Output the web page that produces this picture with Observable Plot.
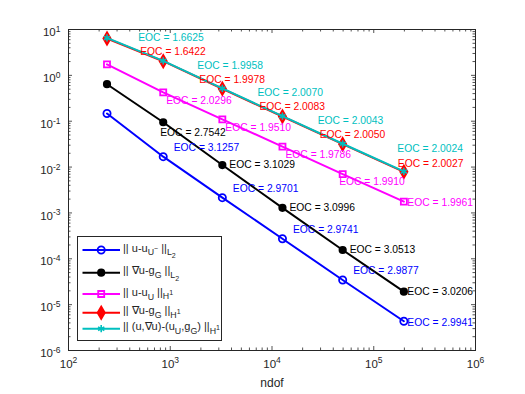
<!DOCTYPE html>
<html>
<head>
<meta charset="utf-8">
<script src="https://cdn.jsdelivr.net/npm/d3@7"></script>
<script src="https://cdn.jsdelivr.net/npm/@observablehq/plot@0.6"></script>
<style>
  html, body { margin: 0; padding: 0; background: white; }
  #wrap { position: relative; width: 525px; height: 394px; font-family: "Liberation Sans", Arial, Helvetica, sans-serif; }
  #legend { position: absolute; left: 77px; top: 236px; width: 145px; height: 105px; box-sizing: border-box;
            border: 1px solid #262626; background: white; }
  #legend svg { position: absolute; left: 0; top: 0; }
  .li { position: absolute; left: 45px; font-size: 11px; line-height: 11px; color: #262626; white-space: nowrap; }
  .li sub { font-size: 80%; vertical-align: -0.4em; line-height: 0; }
  .li sup { font-size: 80%; vertical-align: 0.5em; line-height: 0; }
</style>
</head>
<body>
<div id="wrap"></div>
<script>
// ---------------- data ----------------
const ndof = [239, 853, 3250, 12670, 49500, 197700];

const errL2   = [0.147, 0.01684, 0.00215, 0.000274, 3.45e-5, 4.35e-6];
const gradL2  = [0.641, 0.0950, 0.01106, 0.00129, 1.556e-4, 1.917e-5];
const errH1   = [1.74, 0.426, 0.110, 0.0280, 0.00703, 0.00176];
const gradH1  = [6.35, 2.035, 0.510, 0.1268, 0.0316, 0.00789];
const totalH1 = [6.55, 2.07, 0.520, 0.129, 0.0322, 0.00805];

const eocErrL2   = ["3.1257", "2.9701", "2.9741", "2.9877", "2.9941"];
const eocGradL2  = ["2.7542", "3.1029", "3.0996", "3.0513", "3.0206"];
const eocErrH1   = ["2.0296", "1.9510", "1.9786", "1.9910", "1.9961"];
const eocGradH1  = ["1.6422", "1.9978", "2.0083", "2.0050", "2.0027"];
const eocTotalH1 = ["1.6625", "1.9958", "2.0070", "2.0043", "2.0024"];

const xTickExponents = [2, 3, 4, 5, 6];
const yTickExponents = [-6, -5, -4, -3, -2, -1, 0, 1];

// ---------------- series definitions ----------------
const series = [
  {name: "errL2", values: errL2, eoc: eocErrL2, color: "#0000ff", symbol: "circle", fill: "none", r: 3.6,
   labels: [{idx: [0, 1, 2, 3], dx: 10.5, dy: -9}, {idx: [4], dx: 3.5, dy: 1}]},
  {name: "gradL2", values: gradL2, eoc: eocGradL2, color: "#000000", symbol: "circle", fill: "#000000", r: 3.2,
   labels: [{idx: [0], dx: -3, dy: 10}, {idx: [1, 2, 3], dx: 7, dy: 0}, {idx: [4], dx: 3.5, dy: 0.5}]},
  {name: "errH1", values: errH1, eoc: eocErrH1, color: "#ff00ff", symbol: "square", fill: "none", r: 3.4,
   labels: [{idx: [0, 1, 2], dx: 3, dy: 8.5}, {idx: [3], dx: -3.5, dy: 7.5}, {idx: [4], dx: 3.5, dy: 1}]},
  {name: "gradH1", values: gradH1, eoc: eocGradH1, color: "#ff0000", symbol: "diamond", fill: "#ff0000", r: 3.8,
   labels: [{idx: [0, 1, 2, 3], dx: -23, dy: -9.5}, {idx: [4], dx: -6, dy: -8.5}]},
  {name: "totalH1", values: totalH1, eoc: eocTotalH1, color: "#00bfbf", symbol: "asterisk", fill: "none", r: 3.4,
   labels: [{idx: [0, 1, 2, 3], dx: -25, dy: -23}, {idx: [4], dx: -6.5, dy: -22.5}]}
];

const W = 525, H = 394;
const mL = 68, mT = 29, mR = 50, mB = 44;
const innerW = W - mL - mR, innerH = H - mT - mB;
const axisColor = "#262626";

const xMajor = xTickExponents.map(e => Math.pow(10, e));
const yMajor = yTickExponents.map(e => Math.pow(10, e));
const xMinor = xTickExponents.slice(0, -1).flatMap(e => d3.range(2, 10).map(m => m * Math.pow(10, e)));
const yMinor = yTickExponents.slice(0, -1).flatMap(e => d3.range(2, 10).map(m => m * Math.pow(10, e)));

const marks = [];
// frame + inward ticks on all four sides
const majLen = 4, minLen = 2.5;
marks.push(Plot.ruleX(xMajor, {x: d => d, insetTop: innerH - majLen, stroke: axisColor, strokeWidth: 0.8}));
marks.push(Plot.ruleX(xMinor, {x: d => d, insetTop: innerH - minLen, stroke: axisColor, strokeWidth: 0.8}));
marks.push(Plot.ruleX(xMajor, {x: d => d, insetBottom: innerH - majLen, stroke: axisColor, strokeWidth: 0.8}));
marks.push(Plot.ruleX(xMinor, {x: d => d, insetBottom: innerH - minLen, stroke: axisColor, strokeWidth: 0.8}));
marks.push(Plot.ruleY(yMajor, {y: d => d, insetRight: innerW - majLen, stroke: axisColor, strokeWidth: 0.8}));
marks.push(Plot.ruleY(yMinor, {y: d => d, insetRight: innerW - minLen, stroke: axisColor, strokeWidth: 0.8}));
marks.push(Plot.ruleY(yMajor, {y: d => d, insetLeft: innerW - majLen, stroke: axisColor, strokeWidth: 0.8}));
marks.push(Plot.ruleY(yMinor, {y: d => d, insetLeft: innerW - minLen, stroke: axisColor, strokeWidth: 0.8}));
marks.push(Plot.frame({stroke: axisColor, strokeWidth: 1}));

marks.push(Plot.axisX({ticks: xMajor, tickSize: 0, tickPadding: 9, fontSize: 11.5, label: null,
  tickFormat: d => "10^" + Math.round(Math.log10(d))}));
marks.push(Plot.axisY({ticks: yMajor, tickSize: 0, tickPadding: 8, fontSize: 11.5, label: null, dy: 3,
  tickFormat: d => "10^" + Math.round(Math.log10(d))}));
marks.push(Plot.text(["ndof"], {text: d => d, frameAnchor: "bottom", dy: 36, fontSize: 12, fill: axisColor}));

// lines + markers
for (const s of series) {
  const data = ndof.map((n, i) => ({x: n, y: s.values[i]}));
  marks.push(Plot.line(data, {x: "x", y: "y", stroke: s.color, strokeWidth: 2}));
  marks.push(Plot.dot(data, {x: "x", y: "y", symbol: s.symbol, r: s.r, stroke: s.color,
    fill: s.fill, strokeWidth: s.symbol === "asterisk" ? 1.6 : 1.8}));
}
// EOC labels
for (const s of series) {
  for (const g of s.labels) {
    const data = g.idx.map(k => ({x: ndof[k + 1], y: s.values[k + 1], t: "EOC = " + s.eoc[k]}));
    marks.push(Plot.text(data, {x: "x", y: "y", text: "t", dx: g.dx, dy: g.dy, textAnchor: "start",
      fill: s.color, fontSize: 10.3}));
  }
}

const svg = Plot.plot({
  width: W, height: H, marginLeft: mL, marginTop: mT, marginRight: mR, marginBottom: mB,
  x: {type: "log", domain: [1e2, 1e6]},
  y: {type: "log", domain: [1e-6, 1e1]},
  style: {fontFamily: "'Liberation Sans', Arial, Helvetica, sans-serif", color: axisColor, background: "white"},
  marks
});

// superscript exponents in tick labels
svg.querySelectorAll('[aria-label="x-axis tick label"] text, [aria-label="y-axis tick label"] text').forEach(t => {
  const s = t.textContent;
  const m = s.match(/^10\^(-?\d+)$/);
  if (!m) return;
  t.textContent = "";
  const a = document.createElementNS("http://www.w3.org/2000/svg", "tspan");
  a.textContent = "10";
  const b = document.createElementNS("http://www.w3.org/2000/svg", "tspan");
  b.textContent = m[1];
  b.setAttribute("dy", "-0.5em");
  b.setAttribute("font-size", "8.5");
  t.appendChild(a); t.appendChild(b);
});

const wrap = document.getElementById("wrap");
wrap.appendChild(svg);

// ---------------- legend ----------------
const legendItems = [
  '|| u-u<sub>U<sup>~</sup></sub> ||<sub>L<sub>2</sub></sub>',
  '|| \u2207u-g<sub>G</sub> ||<sub>L<sub>2</sub></sub>',
  '|| u-u<sub>U</sub> ||<sub>H<sup>1</sup></sub>',
  '|| \u2207u-g<sub>G</sub> ||<sub>H<sup>1</sup></sub>',
  '|| (u,\u2207u)-(u<sub>U</sub>,g<sub>G</sub>) ||<sub>H<sup>1</sup></sub>'
];
const rowY = [14, 36.7, 58, 76.7, 92.7];
const leg = document.createElement("div");
leg.id = "legend";
wrap.appendChild(leg);
const lsvg = d3.select(leg).append("svg").attr("width", 145).attr("height", 105);
series.forEach((s, i) => {
  const y = rowY[i] - 1;
  lsvg.append("line").attr("x1", 4.5).attr("x2", 42).attr("y1", y).attr("y2", y)
    .attr("stroke", s.color).attr("stroke-width", 2);
  const symMap = {circle: d3.symbolCircle, square: d3.symbolSquare, diamond: d3.symbolDiamond, asterisk: d3.symbolAsterisk};
  lsvg.append("path").attr("transform", `translate(23.2,${y})`)
    .attr("d", d3.symbol(symMap[s.symbol], Math.PI * s.r * s.r)())
    .attr("fill", s.fill).attr("stroke", s.color).attr("stroke-width", s.symbol === "asterisk" ? 1.6 : 1.8);
  const d = document.createElement("div");
  d.className = "li";
  d.innerHTML = legendItems[i];
  d.style.top = (y - 7.5) + "px";
  leg.appendChild(d);
});
</script>
</body>
</html>
